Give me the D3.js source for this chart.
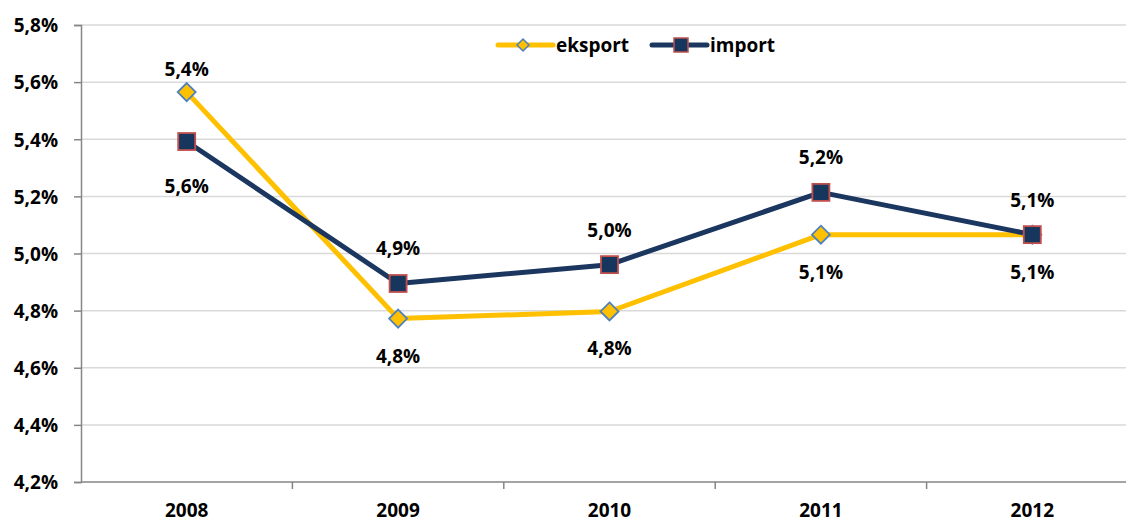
<!DOCTYPE html>
<html>
<head>
<meta charset="utf-8">
<script src="https://cdn.jsdelivr.net/npm/d3@7"></script>
<style>
  body { margin: 0; background: #fff; }
  text { font-family: "Open Sans", Lato, sans-serif; font-weight: bold; fill: #000; }
</style>
</head>
<body>
<div class="plot"></div>
<script>
/* chart data */
const years = ["2008", "2009", "2010", "2011", "2012"];
const eksport = [0.05565, 0.04772, 0.04797, 0.05066, 0.05066];
const importVals = [0.05392, 0.04895, 0.04961, 0.05214, 0.05066];
const yTicks = [0.042, 0.044, 0.046, 0.048, 0.050, 0.052, 0.054, 0.056, 0.058];

const margin = {top: 25, right: -12, bottom: 40, left: 81};
const W = 1126, H = 522;
const width = W - margin.left - margin.right;
const height = H - margin.top - margin.bottom;

const svg = d3.select(".plot").append("svg")
  .attr("width", W)
  .attr("height", H)
  .append("g")
    .attr("transform", `translate(${margin.left},${margin.top})`);

/* comma decimal percent */
const pct = v => d3.format(".1%")(v).replace(".", ",");

const xScale = d3.scaleBand().domain(years).range([0, width]);
const yScale = d3.scaleLinear().domain([0.042, 0.058]).range([height, 0]);

/* grid lines */
svg.append("g")
  .selectAll("line")
  .data(yTicks.slice(1))
  .join("line")
    .attr("x1", 0).attr("x2", width)
    .attr("y1", d => yScale(d)).attr("y2", d => yScale(d))
    .attr("stroke", "#d9d9d9").attr("stroke-width", 1.5);

/* y axis */
const yGroup = svg.append("g")
  .call(d3.axisLeft(yScale).tickValues(yTicks).tickFormat(pct).tickSize(7).tickPadding(16));
yGroup.select(".domain").attr("stroke", "#868686").attr("stroke-width", 1.5);
yGroup.selectAll(".tick line").attr("stroke", "#868686").attr("stroke-width", 1.5);
yGroup.selectAll(".tick text").attr("font-size", 19).attr("dy", "0.36em");

/* x axis with ticks between categories */
const xGroup = svg.append("g")
  .attr("transform", `translate(0,${height})`);
xGroup.append("line")
  .attr("x1", 0).attr("x2", width)
  .attr("stroke", "#868686").attr("stroke-width", 1.5);
xGroup.selectAll(".xtick")
  .data(years.slice(1))
  .join("line")
    .attr("class", "xtick")
    .attr("x1", d => xScale(d)).attr("x2", d => xScale(d))
    .attr("y1", 0).attr("y2", 7)
    .attr("stroke", "#868686").attr("stroke-width", 1.5);
xGroup.selectAll(".xlabel")
  .data(years)
  .join("text")
    .attr("class", "xlabel")
    .attr("x", d => xScale(d) + xScale.bandwidth() / 2)
    .attr("y", 35)
    .attr("text-anchor", "middle")
    .attr("font-size", 19)
    .text(d => d);

const cx = d => xScale(d) + xScale.bandwidth() / 2;

const line = d3.line()
  .x((d, i) => cx(years[i]))
  .y(d => yScale(d));

const series = [
  {name: "eksport", values: eksport, color: "#FFC000", marker: "diamond"},
  {name: "import", values: importVals, color: "#1B365F", marker: "square"}
];

/* lines */
series.forEach(s => {
  svg.append("path")
    .datum(s.values)
    .attr("d", line)
    .attr("fill", "none")
    .attr("stroke", s.color)
    .attr("stroke-width", 5)
    .attr("stroke-linejoin", "round");
});

/* markers */
function drawMarker(g, type, x, y) {
  if (type === "diamond") {
    g.append("path")
      .attr("d", `M${x},${y - 9}L${x + 9},${y}L${x},${y + 9}L${x - 9},${y}Z`)
      .attr("fill", "#FFC000")
      .attr("stroke", "#4F81BD")
      .attr("stroke-width", 1.8);
  } else {
    g.append("rect")
      .attr("x", x - 8.5).attr("y", y - 8.5)
      .attr("width", 17).attr("height", 17)
      .attr("fill", "#17365D")
      .attr("stroke", "#C0504D")
      .attr("stroke-width", 1.8);
  }
}
const markers = svg.append("g");
series.forEach(s => {
  s.values.forEach((v, i) => drawMarker(markers, s.marker, cx(years[i]), yScale(v)));
});

/* data labels: import above the top point, eksport below the bottom point */
years.forEach((yr, i) => {
  const swapped = eksport[i] > importVals[i];
  const top = Math.max(eksport[i], importVals[i]);
  const bot = Math.min(eksport[i], importVals[i]);
  svg.append("text")
    .attr("x", cx(yr))
    .attr("y", yScale(top) - (swapped ? 16 : 28))
    .attr("text-anchor", "middle")
    .attr("font-size", 19)
    .text(pct(importVals[i]));
  svg.append("text")
    .attr("x", cx(yr))
    .attr("y", yScale(bot) + (swapped ? 51 : 44))
    .attr("text-anchor", "middle")
    .attr("font-size", 19)
    .text(pct(eksport[i]));
});

/* legend */
const legend = svg.append("g").attr("transform", `translate(${498 - margin.left},${45 - margin.top})`);
series.forEach((s, i) => {
  const g = legend.append("g").attr("transform", `translate(${i * 154},0)`);
  g.append("line")
    .attr("x1", 0).attr("x2", 55)
    .attr("stroke", s.color).attr("stroke-width", 5).attr("stroke-linecap", "round");
  if (s.marker === "diamond") {
    g.append("path")
      .attr("d", "M25,-6L31,0L25,6L19,0Z")
      .attr("fill", "#FFC000").attr("stroke", "#4F81BD").attr("stroke-width", 1.5);
  } else {
    g.append("rect")
      .attr("x", 22).attr("y", -7).attr("width", 14).attr("height", 14)
      .attr("fill", "#17365D").attr("stroke", "#C0504D").attr("stroke-width", 1.5);
  }
  g.append("text")
    .attr("x", 58)
    .attr("y", 7)
    .attr("font-size", 19)
    .text(s.name);
});
</script>
</body>
</html>
